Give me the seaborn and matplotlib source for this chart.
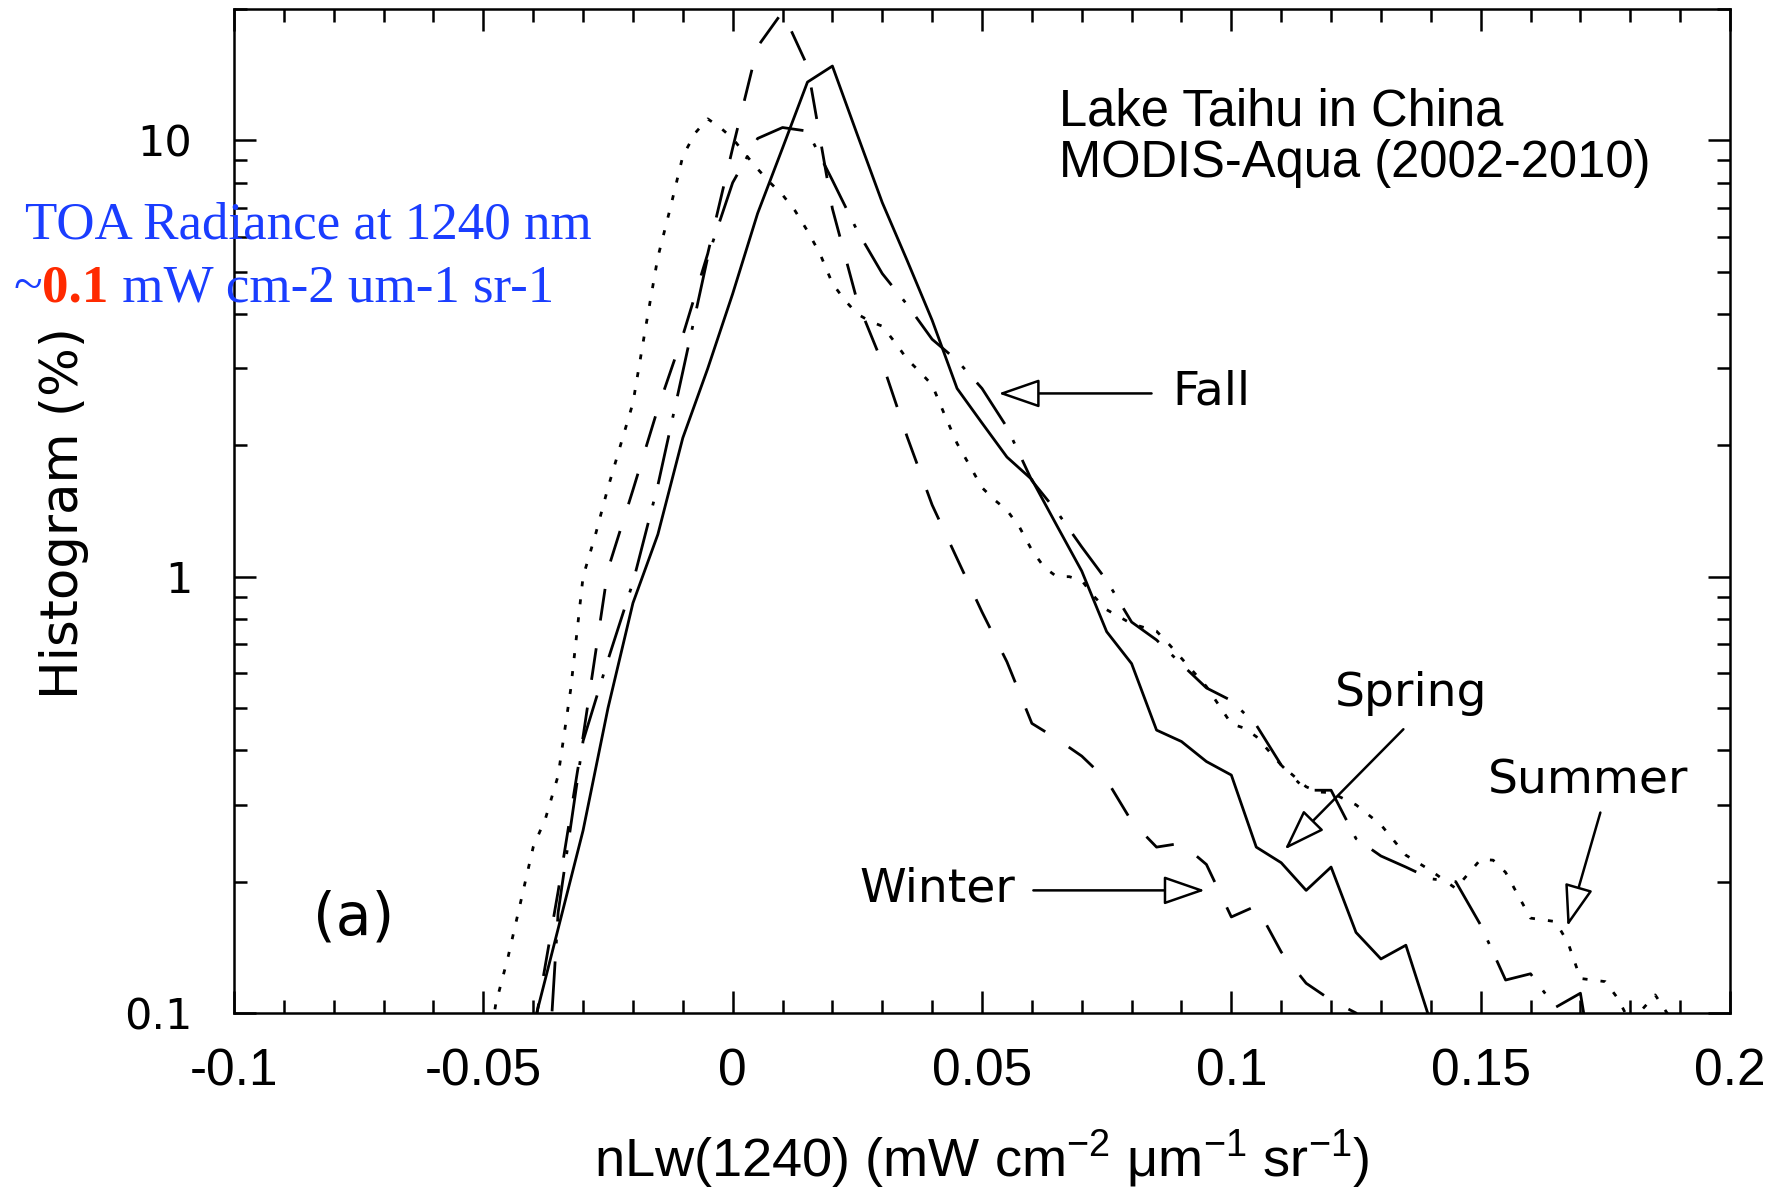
import matplotlib
matplotlib.use("Agg")
import matplotlib.pyplot as plt
from matplotlib.ticker import MultipleLocator, LogLocator, NullFormatter
import pandas as pd
import seaborn as sns

# ---- seasonal histograms of nLw(1240), Lake Taihu, MODIS-Aqua 2002-2010 ----
spring_x = [-0.040, -0.035, -0.030, -0.025, -0.020, -0.015, -0.010, -0.005, 0.000,
            0.005, 0.010, 0.015, 0.020, 0.025, 0.030, 0.035, 0.040, 0.045, 0.050,
            0.055, 0.060, 0.065, 0.070, 0.075, 0.080, 0.085, 0.090, 0.095, 0.100,
            0.105, 0.110, 0.115, 0.120, 0.125, 0.130, 0.135, 0.140, 0.145]
spring_y = [0.093, 0.156, 0.262, 0.50, 0.87, 1.25, 2.08, 3.0, 4.45,
            6.8, 9.6, 13.6, 14.8, 10.3, 7.2, 5.3, 3.87, 2.70, 2.25,
            1.88, 1.67, 1.31, 1.03, 0.748, 0.632, 0.445, 0.419, 0.377, 0.351,
            0.240, 0.221, 0.191, 0.216, 0.153, 0.133, 0.143, 0.095, 0.07]

summer_x = [-0.0500, -0.0475, -0.0450, -0.0425, -0.0400, -0.0375, -0.0350, -0.0325,
            -0.0300, -0.0275, -0.0250, -0.0225, -0.0200, -0.0175, -0.0150, -0.0125,
            -0.0100, -0.0075, -0.0050, -0.0025, 0.0000, 0.0025, 0.0050, 0.0075,
            0.0100, 0.0125, 0.0150, 0.0175, 0.0200, 0.0225, 0.0250, 0.0275,
            0.0300, 0.0325, 0.0350, 0.0375, 0.0400, 0.0425, 0.0450, 0.0475,
            0.0500, 0.0525, 0.0550, 0.0575, 0.0600, 0.0625, 0.0650, 0.0675,
            0.0700, 0.0725, 0.0750, 0.0800, 0.0850, 0.0875, 0.0900, 0.0950,
            0.1000, 0.1025, 0.1050, 0.1100, 0.1150, 0.1175, 0.1200, 0.1250,
            0.1300, 0.1350, 0.1400, 0.1450, 0.1500, 0.1525, 0.1550, 0.1600,
            0.1650, 0.1675, 0.1700, 0.1750, 0.1775, 0.1800, 0.1850, 0.1900, 0.1950]
summer_y = [0.07, 0.105, 0.135, 0.18, 0.24, 0.28, 0.35, 0.55,
            1.0, 1.25, 1.6, 2.0, 2.5, 3.7, 5.4, 7.0,
            9.2, 10.4, 11.2, 10.7, 10.1, 9.3, 8.6, 8.0,
            7.5, 6.9, 6.2, 5.5, 4.7, 4.3, 4.0, 3.85,
            3.75, 3.45, 3.15, 2.95, 2.75, 2.35, 2.02, 1.8,
            1.6, 1.5, 1.42, 1.3, 1.15, 1.05, 1.0, 1.0,
            0.98, 0.9, 0.84, 0.78, 0.75, 0.70, 0.65, 0.56,
            0.46, 0.45, 0.43, 0.37, 0.33, 0.321, 0.32, 0.30,
            0.27, 0.23, 0.212, 0.193, 0.225, 0.224, 0.21, 0.165,
            0.162, 0.145, 0.12, 0.118, 0.108, 0.095, 0.11, 0.09, 0.07]

fall_x = [-0.040, -0.035, -0.030, -0.025, -0.020, -0.015, -0.010, -0.005, 0.000,
          0.005, 0.010, 0.015, 0.020, 0.025, 0.030, 0.035, 0.040, 0.045, 0.050,
          0.055, 0.060, 0.065, 0.070, 0.075, 0.080, 0.085, 0.090, 0.095, 0.100,
          0.105, 0.110, 0.115, 0.120, 0.125, 0.130, 0.135, 0.140, 0.145, 0.150,
          0.155, 0.160, 0.165, 0.170, 0.175, 0.180]
fall_y = [0.02, 0.17, 0.42, 0.645, 0.97, 1.62, 2.95, 5.4, 8.0,
          10.1, 10.7, 10.5, 8.1, 6.2, 4.95, 4.2, 3.5, 3.13, 2.7,
          2.2, 1.66, 1.41, 1.17, 0.98, 0.787, 0.716, 0.63, 0.556, 0.52,
          0.457, 0.37, 0.324, 0.324, 0.251, 0.229, 0.216, 0.203, 0.20, 0.159,
          0.119, 0.123, 0.103, 0.111, 0.05, 0.03]

winter_x = [-0.040, -0.035, -0.030, -0.025, -0.020, -0.015, -0.010, -0.005, 0.000,
            0.005, 0.010, 0.015, 0.020, 0.025, 0.030, 0.035, 0.040, 0.045, 0.050,
            0.055, 0.060, 0.065, 0.070, 0.075, 0.080, 0.085, 0.090, 0.095, 0.100,
            0.105, 0.110, 0.115, 0.120, 0.125, 0.130]
winter_y = [0.089, 0.19, 0.43, 1.04, 1.58, 2.43, 3.57, 5.5, 9.6,
            16.4, 19.7, 14.8, 6.97, 4.27, 3.09, 2.09, 1.46, 1.10, 0.83,
            0.638, 0.461, 0.425, 0.388, 0.342, 0.275, 0.240, 0.245, 0.219, 0.166,
            0.176, 0.138, 0.117, 0.107, 0.100, 0.085]

x_ticks = [-0.1, -0.05, 0.0, 0.05, 0.1, 0.15, 0.2]
x_tick_labels = ["-0.1", "-0.05", "0", "0.05", "0.1", "0.15", "0.2"]
y_ticks = [0.1, 1, 10]
y_tick_labels = ["0.1", "1", "10"]

df = pd.concat([
    pd.DataFrame({"nlw": spring_x, "pct": spring_y, "season": "Spring"}),
    pd.DataFrame({"nlw": summer_x, "pct": summer_y, "season": "Summer"}),
    pd.DataFrame({"nlw": fall_x, "pct": fall_y, "season": "Fall"}),
    pd.DataFrame({"nlw": winter_x, "pct": winter_y, "season": "Winter"}),
], ignore_index=True)

sns.set_theme(style="ticks")
plt.rcParams["font.family"] = ["DejaVu Sans"]
plt.rcParams["axes.unicode_minus"] = False
plt.rcParams["mathtext.fontset"] = "custom"
plt.rcParams["mathtext.rm"] = "Liberation Sans"
plt.rcParams["mathtext.it"] = "Liberation Sans:italic"
plt.rcParams["mathtext.default"] = "regular"
for key in ("text.color", "axes.labelcolor", "xtick.color", "ytick.color",
            "axes.edgecolor", "xtick.labelcolor", "ytick.labelcolor"):
    plt.rcParams[key] = "black"

fig = plt.figure(figsize=(17.81, 11.90), dpi=100)
fig.patch.set_facecolor("white")
ax = fig.add_axes([0.13139, 0.14874, 0.83998, 0.84370])
ax.set_facecolor("white")

line_dashes = {
    "Spring": "",
    "Summer": (1.8, 4.7),
    "Fall": (18, 6.5, 1.4, 6.5),
    "Winter": (11.5, 10.1),
}
sns.lineplot(data=df, x="nlw", y="pct", style="season", dashes=line_dashes,
             color="black", linewidth=2.0, legend=False, estimator=None, ax=ax)

ax.set_yscale("log")
ax.set_xlim(-0.1, 0.2)
ax.set_ylim(0.1, 20)

ax.set_xticks(x_ticks, labels=x_tick_labels, fontfamily="Liberation Sans",
              fontsize=37, color="black")
ax.set_yticks(y_ticks, labels=y_tick_labels, fontsize=31, color="black")
ax.xaxis.set_minor_locator(MultipleLocator(0.01))
ax.yaxis.set_minor_locator(LogLocator(base=10, subs=range(2, 10)))
ax.yaxis.set_minor_formatter(NullFormatter())

ax.tick_params(which="both", direction="in", top=True, right=True,
               color="black", width=1.8)
ax.tick_params(which="major", length=15.8)
ax.tick_params(which="minor", length=9.4)
ax.tick_params(axis="x", which="major", pad=25)
ax.tick_params(axis="y", which="major", pad=30)

for side in ("left", "right", "top", "bottom"):
    ax.spines[side].set_visible(True)
    ax.spines[side].set_color("black")
    ax.spines[side].set_linewidth(1.8)

ax.set_xlabel(r"nLw(1240) (mW cm$^{-2}$ μm$^{-1}$ sr$^{-1}$)",
              fontfamily="Liberation Sans", fontsize=39, color="black")
ax.xaxis.set_label_coords(0.5, -0.1634)
ax.xaxis.label.set_va("baseline")
ax.set_ylabel("Histogram (%)", fontsize=37, color="black")
ax.yaxis.set_label_coords(-0.1135, 0.498)
ax.yaxis.label.set_va("center")

# site / sensor caption
ax.text(0.5512, 0.8835, "Lake Taihu in China", transform=ax.transAxes,
        fontfamily="Liberation Sans", fontsize=36.5, va="baseline", color="black")
ax.text(0.5512, 0.8327, "MODIS-Aqua (2002-2010)", transform=ax.transAxes,
        fontfamily="Liberation Sans", fontsize=36.5, va="baseline", color="black")
ax.text(0.0525, 0.078, "(a)", transform=ax.transAxes, fontsize=42, va="baseline",
        color="black")

# season labels with open-headed arrows
arrow_kw = dict(arrowstyle="-|>,head_length=1.3,head_width=0.45", fc="white",
                ec="black", lw=1.8, shrinkA=0, shrinkB=0, mutation_scale=20)
ax.text(0.0882, 2.48, "Fall", fontsize=34, va="baseline", color="black")
ax.annotate("", xy=(0.0533, 2.63), xytext=(0.084, 2.63), arrowprops=arrow_kw)
ax.text(0.1207, 0.505, "Spring", fontsize=34, va="baseline", color="black")
ax.annotate("", xy=(0.1107, 0.237), xytext=(0.1345, 0.447), arrowprops=arrow_kw)
ax.text(0.1515, 0.318, "Summer", fontsize=34, va="baseline", color="black")
ax.annotate("", xy=(0.1674, 0.158), xytext=(0.174, 0.288), arrowprops=arrow_kw)
ax.text(0.0255, 0.18, "Winter", fontsize=34, va="baseline", color="black")
ax.annotate("", xy=(0.0947, 0.191), xytext=(0.0603, 0.191), arrowprops=arrow_kw)

# TOA radiance note
blue = "#1a3dff"
red = "#ff2a00"
fig.text(0.014, 0.7996, "TOA Radiance at 1240 nm", color=blue,
         fontfamily="Liberation Serif", fontsize=38.2, va="baseline")
t1 = fig.text(0.0076, 0.747, "~", color=blue, fontfamily="Liberation Serif",
              fontsize=38.2, va="baseline")
t2 = ax.annotate("0.1", xy=(1, 0), xycoords=t1, va="bottom", ha="left",
                 color=red, fontfamily="Liberation Serif", fontweight="bold",
                 fontsize=38.2, annotation_clip=False)
ax.annotate(" mW cm-2 um-1 sr-1", xy=(1, 0), xycoords=t2, va="bottom", ha="left",
            color=blue, fontfamily="Liberation Serif", fontsize=38.2,
            annotation_clip=False)

fig.savefig("out.png", dpi=100, facecolor="white")
